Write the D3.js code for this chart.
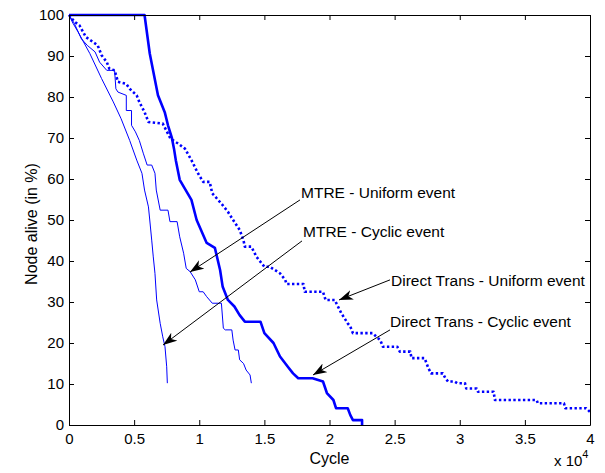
<!DOCTYPE html>
<html>
<head>
<meta charset="utf-8">
<script src="https://cdn.jsdelivr.net/npm/d3@7/dist/d3.min.js"></script>
<style>
  body { margin: 0; background: #fff; }
  svg { display: block; font-family: "Liberation Sans", Arial, sans-serif; }
</style>
</head>
<body>
<div id="chart"></div>
<script>
// tick values
var xTicks = [0, 5000, 10000, 15000, 20000, 25000, 30000, 35000, 40000];
var yTicks = [0, 10, 20, 30, 40, 50, 60, 70, 80, 90, 100];

// MTRE - Cyclic event
var mtreCyclicX = [0, 300, 690, 1600, 2500, 3400, 4000, 4660, 5200, 5600, 5800, 6100, 6200, 6350, 6470, 6600, 6730, 7000, 7200, 7370, 7500, 7550];
var mtreCyclicY = [100, 98, 95.9, 90.6, 84.5, 78.8, 74.7, 69.4, 64.6, 61.4, 57.3, 53.2, 50, 45.1, 41, 37, 30.5, 24.8, 21.5, 19.1, 14.2, 10.2];

// MTRE - Uniform event
var mtreUniformX = [0, 400, 950, 1400, 2000, 2350, 2900, 3500, 3600, 3760, 4400, 4400, 4800, 4800, 5100, 5400, 5700, 6000, 6350, 6600, 6700, 7000, 7600, 7750, 8300, 8500, 8800, 9000, 9300, 9700, 10000, 10300, 10570, 11000, 11700, 11850, 12000, 12500, 12600, 12750, 13000, 13100, 13400, 13600, 13900, 14000];
var mtreUniformY = [100, 98, 94.2, 92.6, 91, 88.5, 86.5, 86.5, 82, 81.2, 80.4, 76.7, 76.7, 73.1, 71.5, 69.4, 66.3, 63.4, 63.4, 61.4, 57.3, 52.4, 52.4, 49.6, 49.6, 45.9, 41.9, 38.2, 37.4, 35.4, 32.5, 32.5, 31.3, 29.7, 29.7, 23.6, 23.2, 23.2, 20.7, 18.3, 18.3, 15.9, 15, 13.4, 12.2, 10.2];

// Direct Trans - Cyclic event
var dtCyclicX = [0, 5800, 6200, 6830, 7350, 7600, 7900, 8060, 8200, 8500, 9400, 9800, 10570, 11200, 11600, 11800, 12200, 12700, 13100, 13500, 14700, 15000, 15700, 16200, 16800, 17200, 17600, 18700, 19500, 19800, 20300, 20500, 21400, 21600, 21800, 22500, 22500];
var dtCyclicY = [100, 100, 90.6, 80.4, 76.3, 73.1, 70, 67.4, 64.6, 59.8, 54.9, 50, 44.4, 43.2, 37.8, 33.7, 30.5, 28.9, 26.8, 25.2, 25.2, 22.4, 20, 16.7, 14.2, 12.6, 11.4, 11.4, 10.6, 7.8, 6.1, 4.1, 4.1, 2.4, 1.2, 1.2, 0];

// Direct Trans - Uniform event
var dtUniformX = [0, 440, 800, 1300, 2200, 2500, 2900, 3100, 3500, 3760, 4400, 4660, 5200, 5400, 5800, 6100, 7200, 7800, 8400, 8900, 9400, 9900, 10300, 10800, 11000, 11700, 12200, 12600, 13100, 13400, 13500, 14000, 14400, 15000, 15400, 16200, 16600, 16700, 18000, 18100, 19500, 19700, 20400, 20900, 21400, 21600, 21800, 23300, 23900, 24100, 25200, 25400, 26200, 26300, 27300, 27600, 27800, 28700, 28900, 29100, 29600, 29800, 30400, 30500, 31300, 31400, 32600, 32700, 35900, 36000, 38000, 38100, 39700, 40000];
var dtUniformY = [100, 98.3, 97.5, 94.6, 92.6, 90.2, 88.5, 86.9, 86.5, 83.7, 83.2, 82, 80.4, 78.8, 76.3, 73.9, 73.5, 69.8, 68.6, 67.4, 64.6, 61.4, 59.3, 59.3, 56.5, 54, 52, 50, 47.6, 45, 43.5, 43.5, 41, 38.6, 38.6, 37, 35.4, 34.4, 34.4, 32.5, 32.5, 30.5, 30.5, 27.3, 24.8, 24, 22.4, 22.4, 20.7, 19.1, 19.1, 17.9, 17.9, 16.3, 16.3, 13.8, 12.6, 12.6, 11.4, 10.6, 10.6, 10.2, 10.2, 8.9, 8.9, 8.1, 8.1, 6.1, 6.1, 5.3, 5.3, 4.1, 4.1, 3.2];

var width = 605, height = 473;
var margin = { left: 69, right: 15, top: 15, bottom: 48 };
var plotW = width - margin.left - margin.right;
var plotH = height - margin.top - margin.bottom;

var svg = d3.select('#chart').append('svg')
  .attr('width', width)
  .attr('height', height);

var g = svg.append('g')
  .attr('transform', 'translate(' + margin.left + ',' + margin.top + ')');

var x = d3.scaleLinear().domain([0, 40000]).range([0, plotW]);
var y = d3.scaleLinear().domain([0, 100]).range([plotH, 0]);

// arrowhead marker (matlab style)
svg.append('defs').append('marker')
  .attr('id', 'head')
  .attr('markerUnits', 'userSpaceOnUse')
  .attr('markerWidth', 16)
  .attr('markerHeight', 12)
  .attr('refX', 14)
  .attr('refY', 5)
  .attr('orient', 'auto')
  .append('path')
  .attr('d', 'M0,0 L14,5 L0,10 L4,5 Z')
  .attr('fill', '#000');

var series = [
  { xs: mtreCyclicX, ys: mtreCyclicY, w: 1, dash: null },
  { xs: mtreUniformX, ys: mtreUniformY, w: 1, dash: null },
  { xs: dtCyclicX, ys: dtCyclicY, w: 2.6, dash: null },
  { xs: dtUniformX, ys: dtUniformY, w: 2.6, dash: '2.4,2.4' }
];

var line = d3.line()
  .x(function (d) { return x(d[0]); })
  .y(function (d) { return y(d[1]); });

series.forEach(function (s) {
  var pts = s.xs.map(function (v, i) { return [v, s.ys[i]]; });
  g.append('path')
    .datum(pts)
    .attr('d', line)
    .attr('fill', 'none')
    .attr('stroke', '#0000ff')
    .attr('stroke-width', s.w)
    .attr('stroke-linejoin', 'round')
    .attr('stroke-dasharray', s.dash);
});

// axes, ticks pointing inward on every side
function fmt(d) { return String(d / 10000); }

var xb = g.append('g')
  .attr('transform', 'translate(0,' + plotH + ')')
  .call(d3.axisBottom(x).tickValues(xTicks).tickFormat(fmt).tickSizeInner(-5).tickSizeOuter(0).tickPadding(8));
var xt = g.append('g')
  .call(d3.axisTop(x).tickValues(xTicks).tickFormat('').tickSizeInner(-5).tickSizeOuter(0));
var yl = g.append('g')
  .call(d3.axisLeft(y).tickValues(yTicks).tickSizeInner(-5).tickSizeOuter(0).tickPadding(5));
var yr = g.append('g')
  .attr('transform', 'translate(' + plotW + ',0)')
  .call(d3.axisRight(y).tickValues(yTicks).tickFormat('').tickSizeInner(-5).tickSizeOuter(0));

[xb, xt, yl, yr].forEach(function (a) {
  a.selectAll('path, line').attr('stroke', '#000').attr('stroke-width', 1);
  a.selectAll('text').attr('fill', '#000').style('font-size', '15px').style('font-family', '"Liberation Sans", Arial, sans-serif');
});

// axis titles
svg.append('text')
  .attr('x', margin.left + plotW / 2)
  .attr('y', 464)
  .attr('text-anchor', 'middle')
  .style('font-size', '16px')
  .text('Cycle');

svg.append('text')
  .attr('transform', 'translate(37,' + (margin.top + plotH / 2 + 4) + ') rotate(-90)')
  .attr('text-anchor', 'middle')
  .style('font-size', '16px')
  .text('Node alive (in %)');

var mult = svg.append('text')
  .attr('x', 554)
  .attr('y', 466)
  .style('font-size', '15px');
mult.append('tspan').text('x 10');
mult.append('tspan').attr('dy', -8).style('font-size', '11px').text('4');

// annotations: text at (tx, ty) in pixels of the plot, arrow from tail to tip in data units
var notes = [
  { label: 'MTRE - Uniform event', tx: 232, ty: 178, tail: [17735, 54.9], tip: [9290, 37.3] },
  { label: 'MTRE - Cyclic event', tx: 234, ty: 217, tail: [17889, 44.9], tip: [7217, 19.5] },
  { label: 'Direct Trans - Uniform event', tx: 322, ty: 266, tail: [24645, 35.4], tip: [20730, 30.5] },
  { label: 'Direct Trans - Cyclic event', tx: 321, ty: 307, tail: [24645, 23.2], tip: [18733, 12.2] }
];

notes.forEach(function (n) {
  g.append('line')
    .attr('x1', x(n.tail[0])).attr('y1', y(n.tail[1]))
    .attr('x2', x(n.tip[0])).attr('y2', y(n.tip[1]))
    .attr('stroke', '#000')
    .attr('stroke-width', 1)
    .attr('marker-end', 'url(#head)');
  g.append('text')
    .attr('x', n.tx)
    .attr('y', n.ty)
    .attr('dy', '0.35em')
    .style('font-size', '15.5px')
    .attr('fill', '#000')
    .text(n.label);
});
</script>
</body>
</html>
